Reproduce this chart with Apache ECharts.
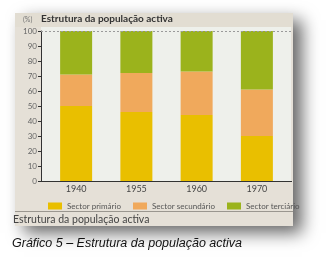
<!DOCTYPE html>
<html><head><meta charset="utf-8">
<script src="https://cdn.jsdelivr.net/npm/echarts@6/dist/echarts.min.js"></script>
<style>html,body{margin:0;padding:0;background:#fff}#c{width:328px;height:260px}</style>
</head><body><div id="c"></div>
<script>
var categories = ['1940', '1955', '1960', '1970'];
var primario = [50, 46, 44, 30];
var secundario = [21, 26, 29, 31];
var terciario = [29, 28, 27, 39];
var yTicks = [0, 10, 20, 30, 40, 50, 60, 70, 80, 90, 100];
var seriesNames = ['Sector primário', 'Sector secundário', 'Sector terciário'];
var colors = ['#E9BF00', '#F0A95C', '#9BB31C'];

var chart = echarts.init(document.getElementById('c'), null, {renderer: 'canvas'});
var font = 'Lato, "Open Sans", sans-serif';
chart.setOption({
  animation: false,
  backgroundColor: '#ffffff',
  graphic: [
    {type: 'rect', z: -10, shape: {x: 15, y: 13, width: 278, height: 213},
     style: {fill: '#E5E0D7', shadowBlur: 16, shadowOffsetX: 9, shadowOffsetY: 7, shadowColor: 'rgba(0,0,0,0.6)'}},
    {type: 'rect', z: -9, shape: {x: 15, y: 13, width: 278, height: 14}, style: {fill: '#E2DDD2'}},
    {type: 'rect', z: -9, shape: {x: 41, y: 27, width: 250, height: 154}, style: {fill: '#EEF0EB'}},
    {type: 'line', z: 5, shape: {x1: 41, y1: 181.5, x2: 292, y2: 181.5}, style: {stroke: '#333', lineWidth: 1}},
    {type: 'line', z: -8, shape: {x1: 15, y1: 211.5, x2: 293, y2: 211.5}, style: {stroke: '#9a968f', lineWidth: 1}},
    {type: 'text', left: 23, top: 16, style: {text: '(%)', fill: '#777', font: '7px ' + font}},
    {type: 'text', left: 41, top: 14, style: {text: 'Estrutura da população activa', fill: '#333', font: 'bold 10px ' + font}},
    {type: 'text', left: 13, top: 214, style: {text: 'Estrutura da população activa', fill: '#444', font: '10.5px ' + font}},
    {type: 'text', left: 12, top: 237, style: {text: 'Gráfico 5 – Estrutura da população activa', fill: '#111', font: 'italic 12.5px "Liberation Sans", sans-serif'}}
  ],
  legend: [
    {data: [seriesNames[0]], left: 43, top: 197, itemWidth: 14, itemHeight: 7, icon: 'rect', textStyle: {fontSize: 8, color: '#555', fontFamily: font}},
    {data: [seriesNames[1]], left: 128, top: 197, itemWidth: 14, itemHeight: 7, icon: 'rect', textStyle: {fontSize: 8, color: '#555', fontFamily: font}},
    {data: [seriesNames[2]], left: 222, top: 197, itemWidth: 14, itemHeight: 7, icon: 'rect', textStyle: {fontSize: 8, color: '#555', fontFamily: font}}
  ],
  grid: {left: 46, right: 41, top: 31, bottom: 79, containLabel: false},
  xAxis: {
    type: 'category', data: categories,
    axisLine: {show: false}, axisTick: {show: false},
    axisLabel: {color: '#444', fontSize: 9, fontFamily: font, margin: 4}
  },
  yAxis: {
    type: 'value', min: 0, max: 100, interval: 10, offset: 5,
    axisLine: {show: true, lineStyle: {color: '#333', width: 1}},
    axisTick: {show: true, length: 3, lineStyle: {color: '#333'}},
    axisLabel: {color: '#666', fontSize: 8, fontFamily: font, margin: 4,
      formatter: function (v) { return yTicks.indexOf(v) >= 0 ? String(v) : ''; }},
    splitLine: {show: false}
  },
  series: [
    {name: seriesNames[0], type: 'bar', stack: 's', data: primario, barWidth: 32, itemStyle: {color: colors[0]},
     markLine: {silent: true, symbol: 'none', label: {show: false}, lineStyle: {color: '#9a9a9a', type: [2, 2], width: 1},
       data: [[{coord: [0, 100], x: 41}, {coord: [3, 100], x: 291}]]}},
    {name: seriesNames[1], type: 'bar', stack: 's', data: secundario, barWidth: 32, itemStyle: {color: colors[1]}},
    {name: seriesNames[2], type: 'bar', stack: 's', data: terciario, barWidth: 32, itemStyle: {color: colors[2]}}
  ]
});
</script></body></html>
